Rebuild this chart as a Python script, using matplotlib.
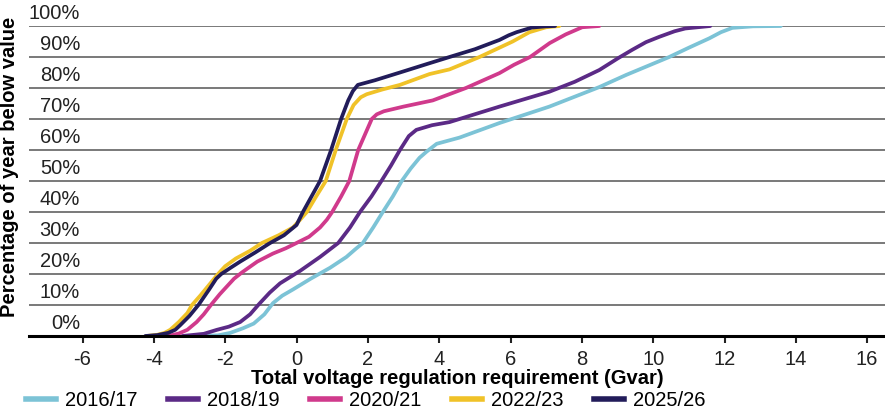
import numpy as np
import matplotlib
matplotlib.use('Agg')
import matplotlib.pyplot as plt
from matplotlib.lines import Line2D

plt.rcParams['font.family'] = ['Liberation Sans', 'DejaVu Sans']
plt.rcParams['axes.unicode_minus'] = False

# curves (x in Gvar, y in % of year)
x_1617 = [-3.0, -2.2, -1.86, -1.5, -1.2, -0.9, -0.66, -0.4, -0.1, 0.4, 0.94, 1.4, 1.65, 1.86,
          2.15, 2.42, 2.7, 2.95, 3.2, 3.45, 3.65, 3.93, 4.57, 5.69, 7.09, 8.49, 9.24, 10.45,
          11.0, 11.57, 11.9, 12.22, 12.8, 13.58]
y_1617 = [0, 0.2, 1, 2.5, 4, 7, 10.6, 13, 15, 18.5, 22, 25.5, 28, 30,
          35, 40, 45, 50, 54, 57.5, 59.5, 62, 64, 68.7, 74, 80.3, 84.2, 90,
          93, 96, 98, 99.4, 99.9, 100]

x_1819 = [-3.2, -2.6, -2.23, -1.9, -1.58, -1.3, -1.05, -0.75, -0.46, 0.1, 0.66, 1.17, 1.5, 1.78,
          2.1, 2.38, 2.65, 2.9, 3.15, 3.36, 3.8, 4.29, 5.69, 7.09, 7.8, 8.49, 9.0, 9.41,
          9.8, 10.17, 10.6, 10.9, 11.6]
y_1819 = [0, 0.7, 2, 3, 4.5, 7, 10.3, 14, 17, 21, 25.5, 30, 35, 40,
          45, 50, 55, 60, 64.5, 66.5, 68, 69, 74, 78.8, 82, 85.8, 89.5, 92.3,
          94.8, 96.5, 98.3, 99.2, 100]

x_2021 = [-3.6, -3.3, -3.06, -2.8, -2.6, -2.4, -2.15, -1.95, -1.75, -1.53, -1.1, -0.66, -0.3, 0.0,
          0.35, 0.66, 0.85, 1.0, 1.25, 1.48, 1.73, 2.11, 2.25, 2.45, 3.0, 3.82, 4.75, 5.69,
          6.1, 6.55, 7.1, 7.55, 8.01, 8.49]
y_2021 = [0, 0.8, 2, 4.5, 7, 10, 13.5, 16, 18.5, 20.5, 24, 26.6, 28.3, 30,
          32, 35, 37.5, 40, 45, 50, 60, 70, 71.5, 72.5, 74, 76, 80, 84.8,
          87.5, 90, 94.5, 97.3, 99.6, 100]

x_2223 = [-4.2, -3.9, -3.7, -3.54, -3.3, -3.06, -2.93, -2.7, -2.45, -2.2, -2.0, -1.7, -1.3, -0.97,
          -0.5, -0.1, 0.1, 0.29, 0.55, 0.82, 1.1, 1.41, 1.6, 1.8, 1.97, 2.4, 2.9, 3.73,
          4.29, 5.13, 5.69, 6.06, 6.53, 7.0, 7.37]
y_2223 = [0, 0.4, 1, 2, 4.5, 7.4, 10, 13, 16.5, 20, 22.5, 25, 27.5, 30,
          32.5, 35, 37.5, 40, 45, 50, 60, 70, 74.5, 77, 78, 79.5, 81, 84.5,
          86, 90, 93, 95, 98, 99.6, 100]

x_2526 = [-4.24, -3.9, -3.6, -3.4, -3.26, -3.0, -2.75, -2.45, -2.25, -2.11, -1.85, -1.58, -1.15,
          -0.74, -0.35, 0.0, 0.18, 0.42, 0.66, 0.97, 1.25, 1.45, 1.58, 1.72, 2.2, 2.9, 3.73,
          4.29, 5.0, 5.69, 5.95, 6.17, 6.6, 7.0, 7.25]
y_2526 = [0, 0.3, 1, 2, 3.5, 6.5, 10, 15, 18.5, 20, 22, 24, 27,
          30, 32.5, 35.8, 40, 45, 50, 60, 70, 76, 79, 81, 82.5, 85, 88,
          90, 92.5, 95.5, 97, 98, 99.5, 99.9, 100]

years = ['2016/17', '2018/19', '2020/21', '2022/23', '2025/26']
colors = ['#7cc3d6', '#5b2a86', '#d03a8c', '#f0c228', '#221c5a']
xs = [x_1617, x_1819, x_2021, x_2223, x_2526]
ys = [y_1617, y_1819, y_2021, y_2223, y_2526]

fig = plt.figure(figsize=(8.85, 4.12), dpi=100)
ax = fig.add_axes([29 / 885, 76 / 412, 856 / 885, 310 / 412])

for x, y, c in zip(xs, ys, colors):
    ax.plot(x, y, color=c, lw=2.7, solid_capstyle='round', solid_joinstyle='round', zorder=3)

ax.set_xlim(-7.5, 16.5)
ax.set_ylim(0, 100)
ax.set_xticks(np.arange(-6, 17, 2))
ax.set_yticks(np.arange(0, 101, 10))
ax.set_yticklabels([])
ax.tick_params(axis='y', length=0)
ax.tick_params(axis='x', direction='out', length=5, width=1.5, labelsize=14.5, pad=5, colors='#222222')
ax.grid(axis='y', color='#555555', lw=1.1)
for s in ['top', 'right', 'left']:
    ax.spines[s].set_visible(False)
ax.spines['bottom'].set_linewidth(2.2)
ax.spines['bottom'].set_zorder(4)

# y labels sit just above each gridline
for v in range(0, 101, 10):
    ax.text(0.0596, v + 0.9, f'{v}%', transform=ax.get_yaxis_transform(),
            ha='right', va='bottom', fontsize=14.5, color='#222222')

ax.set_ylabel('Percentage of year below value', fontsize=14.5, fontweight='bold')
ax.yaxis.set_label_coords(-0.012, 0.545)
fig.text(457 / 885, 1 - 379 / 412, 'Total voltage regulation requirement (Gvar)',
         ha='center', va='center', fontsize=14.5, fontweight='bold')

handles = [Line2D([0], [0], color=c, lw=4) for c in colors]
fig.legend(handles, years, loc='center left', bbox_to_anchor=(26 / 885, 1 - 401 / 412),
           ncol=5, frameon=False, fontsize=14.5, handlelength=1.5, handletextpad=0.45,
           columnspacing=1.5, borderpad=0, borderaxespad=0)

fig.savefig('out.png', dpi=100)
